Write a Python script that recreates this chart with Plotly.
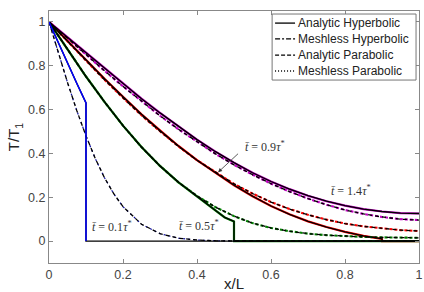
import plotly.graph_objects as go

# ---------------- data ----------------
x_grid = [0, 0.05, 0.1, 0.15, 0.2, 0.25, 0.3, 0.35, 0.4, 0.45, 0.5,
          0.55, 0.6, 0.65, 0.7, 0.75, 0.8, 0.85, 0.9, 0.95, 1.0]

# t = 0.1 tau*
x_hyp_01 = [0, 0.025, 0.05, 0.075, 0.1, 0.1, 1.0]
T_hyp_01 = [1, 0.905, 0.815, 0.72, 0.63, 0, 0]
x_par_01 = [0, 0.025, 0.05, 0.075, 0.1, 0.125, 0.15, 0.175, 0.2, 0.25,
            0.3, 0.35, 0.4, 0.45, 0.5, 1.0]
T_par_01 = [1, 0.86, 0.724, 0.596, 0.48, 0.377, 0.289, 0.216, 0.157, 0.077,
            0.034, 0.013, 0.005, 0.0015, 0.0004, 0]

# t = 0.5 tau*
x_hyp_05 = [0, 0.05, 0.1, 0.15, 0.2, 0.25, 0.3, 0.35, 0.4, 0.45, 0.475,
            0.5, 0.5, 1.0]
T_hyp_05 = [1, 0.874, 0.751, 0.635, 0.527, 0.429, 0.343, 0.268, 0.204,
            0.14, 0.108, 0.09, 0, 0]
T_par_05 = [1, 0.874, 0.751, 0.635, 0.527, 0.429, 0.343, 0.268, 0.206,
            0.155, 0.114, 0.082, 0.06, 0.045, 0.034, 0.027, 0.022, 0.019,
            0.017, 0.016, 0.015]

# t = 0.9 tau*
x_hyp_09 = [0, 0.05, 0.1, 0.15, 0.2, 0.25, 0.3, 0.35, 0.4, 0.45, 0.5,
            0.55, 0.6, 0.65, 0.7, 0.75, 0.8, 0.85, 0.9, 0.9, 1.0]
T_hyp_09 = [1, 0.913, 0.826, 0.741, 0.659, 0.579, 0.505, 0.434, 0.369,
            0.31, 0.255, 0.205, 0.16, 0.122, 0.09, 0.064, 0.042, 0.024,
            0.01, 0, 0]
T_par_09 = [1, 0.911, 0.822, 0.736, 0.654, 0.574, 0.501, 0.432, 0.369,
            0.313, 0.261, 0.217, 0.178, 0.146, 0.12, 0.098, 0.08, 0.067,
            0.057, 0.05, 0.046]

# t = 1.4 tau*
T_hyp_14 = [1, 0.93, 0.86, 0.788, 0.718, 0.65, 0.585, 0.522, 0.463, 0.408,
            0.358, 0.312, 0.272, 0.237, 0.207, 0.182, 0.162, 0.146, 0.135,
            0.128, 0.126]
T_par_14 = [1, 0.925, 0.85, 0.777, 0.706, 0.637, 0.572, 0.51, 0.452, 0.398,
            0.348, 0.303, 0.262, 0.226, 0.194, 0.166, 0.142, 0.124, 0.11,
            0.1, 0.096]

legend_names = ["Analytic Hyperbolic", "Meshless Hyperbolic",
                "Analytic Parabolic", "Meshless Parabolic"]
x_ticks = [0, 0.2, 0.4, 0.6, 0.8, 1]
y_ticks = [0, 0.2, 0.4, 0.6, 0.8, 1]

# (x, T, colour, kind)
curves = [
    (x_grid, T_par_14, "#c000c0", "par"),
    (x_grid, T_hyp_14, "#c000c0", "hyp"),
    (x_grid, T_par_09, "#ff0000", "par"),
    (x_hyp_09, T_hyp_09, "#ff0000", "hyp"),
    (x_grid, T_par_05, "#008000", "par"),
    (x_hyp_05, T_hyp_05, "#008000", "hyp"),
    (x_par_01, T_par_01, "#1010a0", "par"),
]

fig = go.Figure()

# coloured meshless results underneath, black analytic on top
for xs, ts, col, kind in curves:
    if kind == "hyp":
        ln = dict(color=col, width=2.2)
    elif col == "#1010a0":
        ln = dict(color=col, width=1.2, dash="2px,3px")
    else:
        ln = dict(color=col, width=2.1, dash="3px,2px")
    fig.add_trace(go.Scatter(x=xs, y=ts, mode="lines", showlegend=False, line=ln))
for xs, ts, col, kind in curves:
    fig.add_trace(go.Scatter(x=xs, y=ts, mode="lines", showlegend=False,
                             line=dict(color="black", width=1.3,
                                       dash="solid" if kind == "hyp" else "4px,3px")))

# t = 0.1 hyperbolic: black analytic under blue meshless
fig.add_trace(go.Scatter(x=x_hyp_01, y=T_hyp_01, mode="lines", showlegend=False,
                         line=dict(color="black", width=1.4)))
fig.add_trace(go.Scatter(x=x_hyp_01[:-1], y=T_hyp_01[:-1], mode="lines",
                         showlegend=False, line=dict(color="#0000ff", width=1.5)))

serif = dict(family="Liberation Serif, DejaVu Serif, serif", size=12, color="#333")
labels = [
    (0.17, 0.065, "<i>t̄</i> = 0.1<i>τ</i><sup>*</sup>"),
    (0.405, 0.07, "<i>t̄</i> = 0.5<i>τ</i><sup>*</sup>"),
    (0.585, 0.43, "<i>t̄</i> = 0.9<i>τ</i><sup>*</sup>"),
    (0.815, 0.23, "<i>t̄</i> = 1.4<i>τ</i><sup>*</sup>"),
]
for lx, ly, txt in labels:
    fig.add_annotation(x=lx, y=ly, text=txt, showarrow=False, font=serif)

fig.add_annotation(x=0.457, y=0.314, ax=0.515, ay=0.405, xref="x", yref="y",
                   axref="x", ayref="y", text="", showarrow=True,
                   arrowhead=2, arrowsize=1, arrowwidth=0.8, arrowcolor="#333")

# ---------- hand-built legend box (MATLAB style) ----------
sans = "Liberation Sans, Arial, sans-serif"
lx0, lx1, ly0, ly1 = 0.603, 0.992, 0.726, 0.988
fig.add_shape(type="rect", xref="paper", yref="paper", x0=lx0, x1=lx1,
              y0=ly0, y1=ly1, line=dict(color="#777", width=1),
              fillcolor="white", layer="above")
entry_y = [0.952, 0.889, 0.825, 0.762]
styles = ["solid", "5px,2px,2px,2px", "4px,2px", "1px,2px"]
for name, d, ey in zip(legend_names, styles, entry_y):
    fig.add_shape(type="line", xref="paper", yref="paper", x0=0.611, x1=0.665,
                  y0=ey, y1=ey, line=dict(color="black", width=1.3, dash=d),
                  layer="above")
    fig.add_annotation(xref="paper", yref="paper", x=0.668, y=ey, text=name,
                       showarrow=False, xanchor="left", yanchor="middle",
                       font=dict(family=sans, size=12, color="#222"))

axis_common = dict(showgrid=False, zeroline=False, showline=True,
                   linecolor="#888", linewidth=1, mirror="ticks",
                   ticks="inside", ticklen=4, tickcolor="#888",
                   automargin=False,
                   tickfont=dict(family=sans, size=12.5, color="#444"))

fig.update_layout(
    width=424, height=292,
    margin=dict(l=49, r=5, t=11, b=29),
    paper_bgcolor="white", plot_bgcolor="white",
    showlegend=False,
    xaxis=dict(range=[0, 1], tickvals=x_ticks,
               ticktext=[f"{v:g}" for v in x_ticks],
               title=dict(text="x/L", standoff=3,
                          font=dict(family=sans, size=15, color="#222")),
               **axis_common),
    yaxis=dict(range=[-0.1, 1.05], tickvals=y_ticks,
               ticktext=[f"{v:g}" for v in y_ticks],
               title=dict(text="T/T<sub>1</sub>", standoff=4,
                          font=dict(family=sans, size=15, color="#222")),
               **axis_common),
)

fig.write_html("out.html")
